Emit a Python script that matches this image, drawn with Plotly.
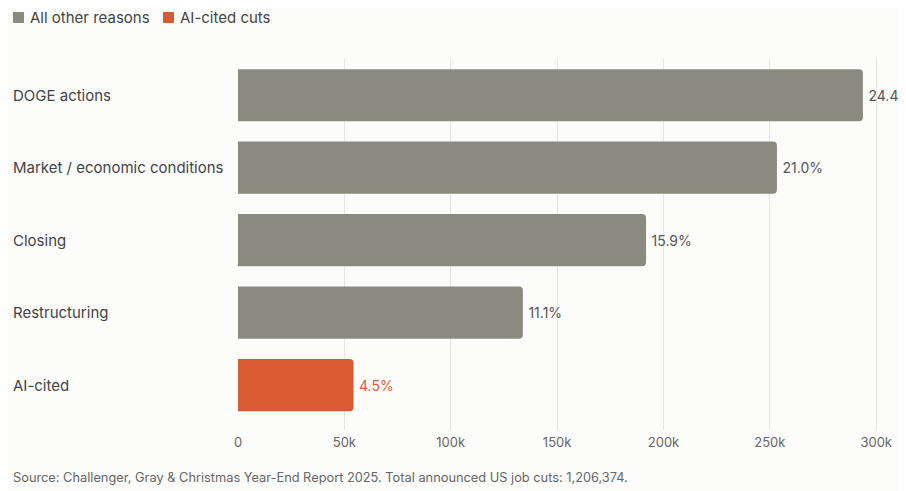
import plotly.graph_objects as go

reasons = ["DOGE actions", "Market / economic conditions", "Closing", "Restructuring", "AI-cited"]
cuts = [293753, 253339, 191813, 133908, 54287]
shares = ["24.4%", "21.0%", "15.9%", "11.1%", "4.5%"]
is_ai = [False, False, False, False, True]

tick_vals = [0, 50000, 100000, 150000, 200000, 250000, 300000]
tick_text = ["0", "50k", "100k", "150k", "200k", "250k", "300k"]

legend_names = ["All other reasons", "AI-cited cuts"]

GRAY = "#8a8a80"
ORANGE = "#d95b32"
BG = "#fcfcfb"
FONT = "Inter, Roboto, sans-serif"

# figure pixel geometry (page body adds 8px offset)
W, H = 898, 483
L, T, B = 230, 51, 61
PW, PH = W - L, H - T - B


def px_x(x):
    return (x - L) / PW


def px_y(y):
    return 1 + (T - y) / PH


other_idx = [i for i, a in enumerate(is_ai) if not a]
ai_idx = [i for i, a in enumerate(is_ai) if a]

fig = go.Figure()

for idx, color, txtcolor, name in [
    (other_idx, GRAY, "#555555", legend_names[0]),
    (ai_idx, ORANGE, ORANGE, legend_names[1]),
]:
    fig.add_trace(go.Bar(
        y=[reasons[i] for i in idx],
        x=[cuts[i] for i in idx],
        text=[shares[i] for i in idx],
        texttemplate="\u2009%{text}",
        orientation="h",
        name=name,
        marker=dict(color=color, line=dict(width=0)),
        textposition="outside",
        textfont=dict(color=txtcolor, size=14, family=FONT),
        cliponaxis=True,
        width=0.72,
        showlegend=False,
    ))

# left-aligned category labels
for r in reasons:
    fig.add_annotation(
        x=px_x(3), xref="paper", y=r, yref="y",
        text=r, showarrow=False, xanchor="left",
        font=dict(size=15, color="#444444", family=FONT),
    )

# legend drawn by hand to match spacing
for name, color, sx in [(legend_names[0], GRAY, 5), (legend_names[1], ORANGE, 155)]:
    fig.add_shape(
        type="rect", xref="paper", yref="paper",
        x0=px_x(sx), x1=px_x(sx + 11), y0=px_y(15), y1=px_y(4),
        fillcolor=color, line=dict(width=0),
    )
    fig.add_annotation(
        x=px_x(sx + 15), xref="paper", y=px_y(9.5), yref="paper",
        text=name, showarrow=False, xanchor="left", yanchor="middle",
        font=dict(size=15, color="#444444", family=FONT),
    )

fig.add_annotation(
    x=px_x(3), xref="paper", y=px_y(469), yref="paper",
    text="Source: Challenger, Gray & Christmas Year-End Report 2025. Total announced US job cuts: 1,206,374.",
    showarrow=False, xanchor="left", yanchor="middle",
    font=dict(size=12.8, color="#666666", family=FONT),
)

fig.update_layout(
    width=W, height=H,
    margin=dict(l=L, r=0, t=T, b=B),
    paper_bgcolor=BG, plot_bgcolor=BG,
    barmode="overlay",
    barcornerradius=4,
    font=dict(family=FONT, color="#444444"),
    showlegend=False,
    xaxis=dict(
        range=[0, 314000], tickvals=tick_vals, ticktext=tick_text,
        showgrid=True, gridcolor="#e6e6e3", gridwidth=1,
        zeroline=False, showline=False,
        tickfont=dict(size=13, color="#666666", family=FONT),
        ticklabelstandoff=3,
        fixedrange=True,
    ),
    yaxis=dict(
        categoryorder="array", categoryarray=reasons,
        range=[4.62, -0.5], showticklabels=False,
        showgrid=False, zeroline=False, showline=False,
    ),
)

fig.write_html("out.html")
